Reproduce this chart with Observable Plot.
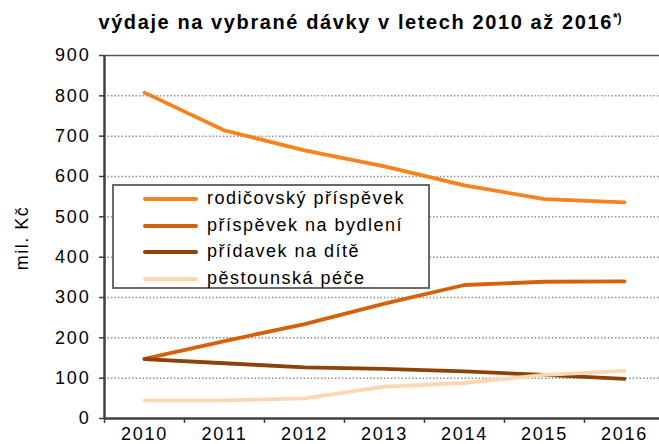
<!DOCTYPE html>
<html>
<head>
<meta charset="utf-8">
<script src="https://cdn.jsdelivr.net/npm/d3@7"></script>
<script src="https://cdn.jsdelivr.net/npm/@observablehq/plot@0.6"></script>
<style>
  html, body { margin: 0; padding: 0; background: #fff; overflow: hidden; }
  body { font-family: "Liberation Sans", Arial, sans-serif; width: 659px; height: 444px; position: relative; }
  #title { position: absolute; left: 0; top: 2px; width: 720px; height: 40px; text-align: center; font-weight: bold; font-size: 20px; letter-spacing: 1.6px; line-height: 40px; color: #000; }
  #title sup { font-size: 12px; vertical-align: 7px; line-height: 0; letter-spacing: 0; }
  #chart { position: absolute; left: 0; top: 40px; }
  #chart svg text { letter-spacing: 1.8px; }
  #legend { position: absolute; left: 112px; top: 184px; width: 314px; height: 101px; border: 2px solid #6a6a6a; background: #fff; box-sizing: content-box; }
  .row { position: absolute; left: 0; height: 26px; font-size: 18px; letter-spacing: 1.5px; color: #000; white-space: nowrap; }
  .row .sw { position: absolute; left: 29px; width: 55px; height: 4px; top: 11px; border-radius: 2px; }
  .row .lb { position: absolute; left: 93px; top: 2px; line-height: 20px; }
  #ylab { position: absolute; left: 22px; top: 238px; transform: translate(-50%, -50%) rotate(-90deg); font-size: 18px; letter-spacing: 1.5px; white-space: nowrap; }
</style>
</head>
<body>
<div id="title">výdaje na vybrané dávky v letech 2010 až 2016<sup>*)</sup></div>
<div id="chart"></div>
<div id="ylab">mil. Kč</div>
<div id="legend"></div>
<script>
const years = [2010, 2011, 2012, 2013, 2014, 2015, 2016];
const rodicovsky = [808, 714, 665, 625, 578, 544, 536];
const bydleni = [148, 192, 234, 285, 331, 339, 340];
const pridavek = [147, 137, 127, 123, 117, 108, 98];
const pestounska = [45, 45, 50, 79, 88, 108, 118];
const seriesNames = ["rodičovský příspěvek", "příspěvek na bydlení", "přídavek na dítě", "pěstounská péče"];
const seriesColors = ["#F7821E", "#D4620A", "#8C4309", "#FDD6B2"];
const yTicks = [0, 100, 200, 300, 400, 500, 600, 700, 800, 900];

const seriesValues = [rodicovsky, bydleni, pridavek, pestounska];
const data = seriesValues.flatMap((vals, i) => years.map((yr, j) => ({series: seriesNames[i], year: yr, value: vals[j]})));
const boundaries = years.map(y => y - 0.5);

const plot = Plot.plot({
  width: 659,
  height: 404,
  marginLeft: 104,
  marginRight: 0,
  marginTop: 15,
  marginBottom: 26,
  style: {fontFamily: '"Liberation Sans", Arial, sans-serif', fontSize: "17px", color: "#000", background: "#fff", overflow: "hidden"},
  x: {type: "linear", domain: [2009.5, 2016.5], range: [104, 664]},
  y: {domain: [0, 900]},
  color: {domain: seriesNames, range: seriesColors},
  marks: [
    Plot.ruleY(yTicks.filter(t => t > 0 && t < 900), {stroke: "#909090", strokeWidth: 1.5, strokeDasharray: "1.5,2"}),
    Plot.ruleY([900], {stroke: "#555", strokeWidth: 1.5}),
    Plot.axisY({ticks: yTicks, tickSize: 5, tickPadding: 9, stroke: "#404040", strokeWidth: 1.5, fontSize: 18, label: null}),
    Plot.axisX({ticks: years, tickSize: 0, tickPadding: 9, tickFormat: d => String(d), fontSize: 18, label: null}),
    Plot.axisX({ticks: boundaries, tickSize: 5, tickFormat: () => "", stroke: "#404040", strokeWidth: 1.5, label: null}),
    Plot.lineY(data, {x: "year", y: "value", stroke: "series", z: "series", strokeWidth: 3.8, strokeLinejoin: "round", strokeLinecap: "round"}),
    Plot.ruleY([0], {stroke: "#404040", strokeWidth: 2.5}),
    Plot.ruleX([2009.5], {stroke: "#404040", strokeWidth: 2.5})
  ]
});
document.getElementById("chart").appendChild(plot);

const legend = document.getElementById("legend");
seriesNames.forEach((name, i) => {
  const row = document.createElement("div");
  row.className = "row";
  row.style.top = (i * 26.5) + "px";
  const sw = document.createElement("div");
  sw.className = "sw";
  sw.style.background = seriesColors[i];
  const lb = document.createElement("div");
  lb.className = "lb";
  lb.textContent = name;
  row.appendChild(sw);
  row.appendChild(lb);
  legend.appendChild(row);
});
</script>
</body>
</html>
